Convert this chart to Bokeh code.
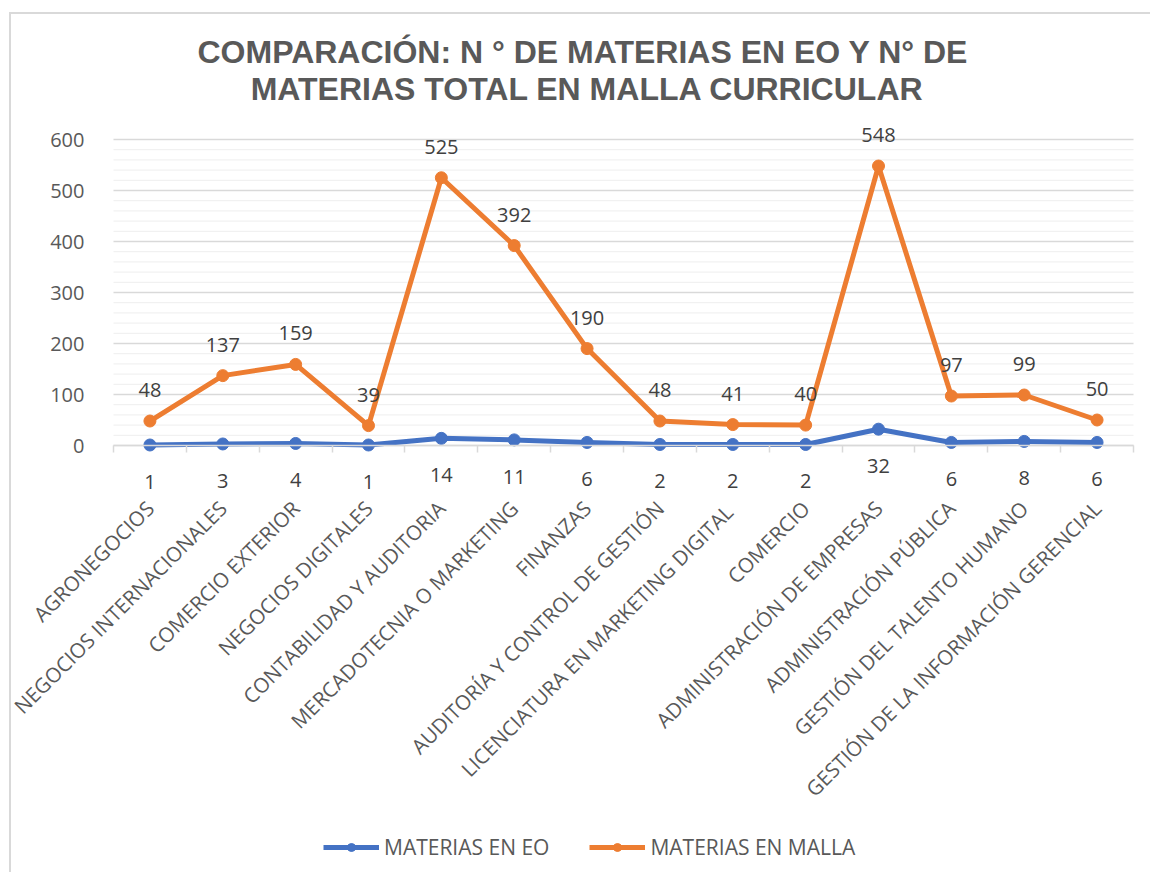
import math
from bokeh.plotting import figure
from bokeh.models import (Range1d, FixedTicker, ColumnDataSource,
                          LabelSet, Label, Legend, LegendItem)
from bokeh.core.properties import value
from bokeh.embed import file_html
from bokeh.resources import INLINE

categories = [
    "AGRONEGOCIOS",
    "NEGOCIOS INTERNACIONALES",
    "COMERCIO EXTERIOR",
    "NEGOCIOS DIGITALES",
    "CONTABILIDAD Y AUDITORIA",
    "MERCADOTECNIA O MARKETING",
    "FINANZAS",
    "AUDITORÍA Y CONTROL DE GESTIÓN",
    "LICENCIATURA  EN MARKETING DIGITAL",
    "COMERCIO",
    "ADMINISTRACIÓN DE EMPRESAS",
    "ADMINISTRACIÓN PÚBLICA",
    "GESTIÓN DEL TALENTO HUMANO",
    "GESTIÓN DE LA INFORMACIÓN GERENCIAL",
]
eo_values = [1, 3, 4, 1, 14, 11, 6, 2, 2, 2, 32, 6, 8, 6]
malla_values = [48, 137, 159, 39, 525, 392, 190, 48, 41, 40, 548, 97, 99, 50]
series_names = ["MATERIAS EN EO", "MATERIAS EN MALLA"]
title_lines = ["COMPARACIÓN: N ° DE MATERIAS  EN EO Y N° DE",
               "MATERIAS TOTAL EN MALLA CURRICULAR"]
y_major_ticks = [0, 100, 200, 300, 400, 500, 600]
y_minor_ticks = [v for v in range(20, 600, 20) if v % 100 != 0]

BLUE = "#4472C4"
ORANGE = "#ED7D31"
GREY_TXT = "#595959"
LABEL_TXT = "#404040"
FONT = "Open Sans"

# ---- layout (pixels in the picture) ----
W, H = 1150, 872
PLOT_L, PLOT_R = 113, 1133            # plot area, left/right pixel columns
PX_ZERO, PX_TOP = 445, 139            # pixel rows of value 0 and value 600
n = len(categories)
px_per_unit = (PX_ZERO - PX_TOP) / 600.0
px_per_cat = (PLOT_R - PLOT_L) / n
X_LO, X_HI = -0.5, n - 0.5            # category extent of the plot area


def dy(page_y):
    """page pixel row -> data y"""
    return (PX_ZERO - page_y) / px_per_unit


def dx(page_x):
    """page pixel column -> data x"""
    return (page_x - PLOT_L) / px_per_cat - 0.5


xs = list(range(n))
src = ColumnDataSource(dict(
    x=xs, eo=eo_values, malla=malla_values,
    eo_txt=[str(v) for v in eo_values],
    malla_txt=[str(v) for v in malla_values],
))

# the canvas is one big frame so that nothing (rotated labels, title, legend) is clipped
p = figure(width=W, height=H, output_backend="svg", toolbar_location=None,
           x_range=Range1d(dx(0), dx(W)), y_range=Range1d(dy(H), dy(0)),
           min_border_left=0, min_border_right=0, min_border_top=0, min_border_bottom=0,
           border_fill_color=None, background_fill_color=None,
           outline_line_color=None)
p.title.text = ""
# light chart border (top and left edge, as in the reference)
p.styles = {"box-shadow": "inset 9px 12px 0 0 #FFFFFF, inset 11px 14px 0 0 #D9D9D9"}
p.xgrid.visible = False
p.ygrid.visible = False

# horizontal grid lines limited to the plot area
p.segment(x0=[X_LO] * len(y_minor_ticks), x1=[X_HI] * len(y_minor_ticks),
          y0=y_minor_ticks, y1=y_minor_ticks, line_color="#EEEEEE", line_width=1)
p.segment(x0=[X_LO] * len(y_major_ticks), x1=[X_HI] * len(y_major_ticks),
          y0=y_major_ticks, y1=y_major_ticks, line_color="#D9D9D9", line_width=1.5)

# y axis at the left edge of the plot area
yax = p.yaxis[0]
yax.fixed_location = X_LO
yax.bounds = (0, 600)
yax.ticker = FixedTicker(ticks=y_major_ticks)
yax.axis_line_color = None
yax.major_tick_line_color = None
yax.minor_tick_line_color = None
yax.major_label_text_font = FONT
yax.major_label_text_font_size = "20px"
yax.major_label_text_color = GREY_TXT
yax.major_label_standoff = 23

# x axis on the zero line: labels at category centres, tick marks at boundaries
xax = p.xaxis[0]
xax.fixed_location = 0
xax.bounds = (X_LO, X_HI)
xax.ticker = FixedTicker(ticks=xs, minor_ticks=[i - 0.5 for i in range(n + 1)])
xax.major_label_overrides = {i: c for i, c in enumerate(categories)}
xax.axis_line_color = "#D9D9D9"
xax.axis_line_width = 1.5
xax.major_tick_line_color = None
xax.major_tick_out = 0
xax.major_tick_in = 0
xax.minor_tick_line_color = "#D9D9D9"
xax.minor_tick_line_width = 1.5
xax.minor_tick_out = 7
xax.minor_tick_in = 0
xax.major_label_orientation = math.pi / 4
xax.major_label_standoff = 52
xax.major_label_text_font = FONT
xax.major_label_text_font_size = "20.5px"
xax.major_label_text_color = GREY_TXT

# series
r1 = p.line("x", "eo", source=src, line_color=BLUE, line_width=5, line_join="round")
s1 = p.scatter("x", "eo", source=src, size=12, fill_color=BLUE, line_color=BLUE)
r2 = p.line("x", "malla", source=src, line_color=ORANGE, line_width=5, line_join="round")
s2 = p.scatter("x", "malla", source=src, size=12, fill_color=ORANGE, line_color=ORANGE)

# data labels
p.add_layout(LabelSet(x="x", y="malla", text="malla_txt", source=src, y_offset=31,
                      text_align="center", text_baseline="middle",
                      text_font=value(FONT), text_font_size="20px", text_color=LABEL_TXT))
p.add_layout(LabelSet(x="x", y="eo", text="eo_txt", source=src, y_offset=-37,
                      text_align="center", text_baseline="middle",
                      text_font=value(FONT), text_font_size="20px", text_color=LABEL_TXT))

# title (two centred lines)
for txt, row in zip(title_lines, [51, 88]):
    p.add_layout(Label(x=dx(587), y=dy(row), text=txt,
                       text_align="center", text_baseline="middle",
                       text_font="Liberation Sans", text_font_style="bold",
                       text_font_size="32px", text_color=GREY_TXT))

# legend
legend = Legend(items=[LegendItem(label=series_names[0], renderers=[r1, s1]),
                       LegendItem(label=series_names[1], renderers=[r2, s2])],
                orientation="horizontal", location=(323, H - 861),
                padding=0, margin=0, spacing=40, label_standoff=5,
                glyph_width=56, glyph_height=20, label_height=20,
                border_line_color=None, background_fill_alpha=0,
                label_text_font=FONT, label_text_font_size="21px",
                label_text_color=GREY_TXT)
p.add_layout(legend, "center")

open("out.html", "w").write(file_html(p, INLINE))
